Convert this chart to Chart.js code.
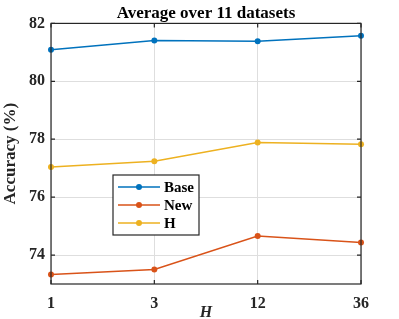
<!DOCTYPE html>
<html>
<head>
<meta charset="utf-8">
<script src="https://cdn.jsdelivr.net/npm/chart.js@4"></script>
<style>
  body { margin: 0; background: #fff; }
  #wrap { width: 399px; height: 319px; }
</style>
</head>
<body>
<div id="wrap"><canvas id="accChart" width="399" height="319"></canvas></div>
<script>
// data
const hValues = ['1', '3', '12', '36'];
const baseAcc = [81.09, 81.41, 81.38, 81.57];
const newAcc = [73.33, 73.50, 74.66, 74.43];
const hmeanAcc = [77.04, 77.24, 77.89, 77.83];
const yTicks = [74, 76, 78, 80, 82];

const axisColor = '#262626';
const serif = '"Liberation Serif", "Times New Roman", serif';

// box around the axes, ticks pointing inward, plus the legend box
const matlabAxes = {
    id: 'matlabAxes',
    afterDraw(chart) {
        const ctx = chart.ctx;
        const a = chart.chartArea;
        const xs = chart.scales.x;
        const ys = chart.scales.y;
        ctx.save();
        ctx.strokeStyle = axisColor;
        ctx.lineWidth = 1.2;
        ctx.strokeRect(a.left, a.top, a.right - a.left, a.bottom - a.top);
        ctx.beginPath();
        yTicks.forEach(v => {
            const py = ys.getPixelForValue(v);
            ctx.moveTo(a.left, py); ctx.lineTo(a.left + 4, py);
            ctx.moveTo(a.right, py); ctx.lineTo(a.right - 4, py);
        });
        hValues.forEach((h, i) => {
            const px = xs.getPixelForValue(i);
            ctx.moveTo(px, a.bottom); ctx.lineTo(px, a.bottom - 4);
            ctx.moveTo(px, a.top); ctx.lineTo(px, a.top + 4);
        });
        ctx.stroke();

        // legend
        const lx = 113, ly = 175, lw = 86, lh = 60;
        ctx.fillStyle = '#fff';
        ctx.fillRect(lx, ly, lw, lh);
        ctx.strokeRect(lx, ly, lw, lh);
        ctx.font = 'bold 15px ' + serif;
        ctx.textBaseline = 'middle';
        chart.data.datasets.forEach((ds, i) => {
            const y = ly + 12 + i * 18;
            ctx.strokeStyle = ds.borderColor;
            ctx.lineWidth = 1.5;
            ctx.beginPath();
            ctx.moveTo(lx + 5, y); ctx.lineTo(lx + 47, y);
            ctx.stroke();
            ctx.fillStyle = ds.borderColor;
            ctx.beginPath();
            ctx.arc(lx + 26, y, 3, 0, Math.PI * 2);
            ctx.fill();
            ctx.fillStyle = '#000';
            ctx.fillText(ds.label, lx + 51, y + 1);
        });
        ctx.restore();
    }
};

const ctx = document.getElementById('accChart').getContext('2d');
new Chart(ctx, {
    type: 'line',
    data: {
        labels: hValues,
        datasets: [
            { label: 'Base', data: baseAcc, borderColor: '#0072BD', backgroundColor: '#0072BD' },
            { label: 'New', data: newAcc, borderColor: '#D95319', backgroundColor: '#D95319' },
            { label: 'H', data: hmeanAcc, borderColor: '#EDB120', backgroundColor: '#EDB120' }
        ]
    },
    options: {
        responsive: false,
        animation: false,
        layout: { padding: { left: 0, right: 38, top: 0, bottom: 0 } },
        elements: {
            line: { borderWidth: 1.5, tension: 0 },
            point: { radius: 3, borderWidth: 0 }
        },
        scales: {
            x: {
                offset: false,
                grid: { color: '#dedede', drawTicks: false, lineWidth: 1 },
                border: { display: false },
                ticks: { color: axisColor, padding: 10, maxRotation: 0, font: { family: serif, size: 16, weight: 'bold' } },
                title: {
                    display: true, text: 'H', color: axisColor, padding: { top: -6, bottom: -3 },
                    font: { family: serif, size: 16, weight: 'bold', style: 'italic' }
                },
                afterFit: s => { s.height = 35; }
            },
            y: {
                min: 73, max: 82,
                afterBuildTicks: s => { s.ticks = yTicks.map(v => ({ value: v })); },
                grid: { color: '#dedede', drawTicks: false, lineWidth: 1 },
                border: { display: false },
                ticks: { color: axisColor, padding: 6, font: { family: serif, size: 16, weight: 'bold' } },
                title: {
                    display: true, text: 'Accuracy (%)', color: axisColor, padding: { top: 0, bottom: 0 },
                    font: { family: serif, size: 17, weight: 'bold' }
                },
                afterFit: s => { s.width = 51; }
            }
        },
        plugins: {
            legend: { display: false },
            tooltip: { enabled: false },
            title: {
                display: true, fullSize: false, text: 'Average over 11 datasets', color: '#000',
                padding: { top: 3, bottom: 0 },
                font: { family: serif, size: 17, weight: 'bold', lineHeight: 1.2 }
            }
        }
    },
    plugins: [matlabAxes]
});
</script>
</body>
</html>
